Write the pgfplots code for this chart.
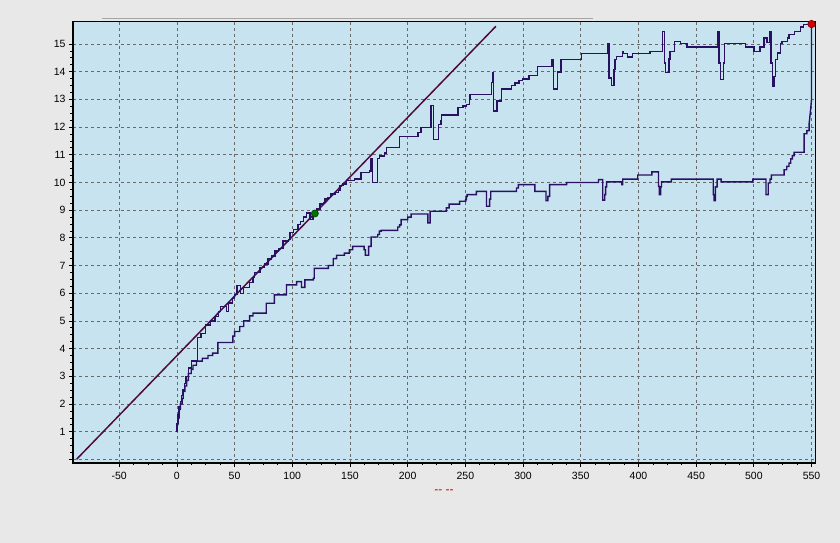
\documentclass[border=0pt]{standalone}
\usepackage{pgfplots}
\pgfplotsset{compat=1.18}
\usepackage{fontspec}
\setmainfont{Liberation Sans}
\definecolor{outerbg}{RGB}{232,232,232}
\definecolor{plotbg}{RGB}{199,227,240}
\definecolor{stepc}{RGB}{42,16,98}
\definecolor{diagc}{RGB}{78,10,62}
\definecolor{gridc}{RGB}{105,105,105}
\begin{document}
\begin{tikzpicture}[x=1pt,y=1pt]
\fill[outerbg] (0,0) rectangle (840,543);
\draw[black!35, line width=1pt] (102,524.5) -- (593,524.5);
\begin{axis}[
  at={(73pt,80pt)}, anchor=south west,
  scale only axis, width=742pt, height=442pt,
  xmin=-90, xmax=553, ymin=-0.13, ymax=15.83,
  axis background/.style={fill=plotbg},
  xtick={-50,0,...,550},
  ytick={0,...,15},
  yticklabels={,1,2,3,4,5,6,7,8,9,10,11,12,13,14,15},
  minor x tick num=3, minor y tick num=3,
  tick align=outside, xtick pos=bottom, ytick pos=left,
  major tick length=4pt, minor tick length=2.5pt,
  tick style={black, line width=0.7pt},
  grid=major, major grid style={gridc, dash pattern=on 3pt off 3pt, line width=0.7pt},
  axis line style={black, line width=0.9pt},
  ticklabel style={font=\fontsize{10.5}{12}\selectfont},
  xticklabel style={yshift=-1.5pt},
  /pgf/number format/assume math mode=true,
  clip=false,
]
% diagonal
\addplot[diagc, line width=1.5pt] coordinates {(-87,0) (276.5,15.64)};
% upper step curve
\addplot[stepc, line width=1.4pt] coordinates {
(0,1.0)(0,1.3)(1,1.3)(1,1.6)(2,1.6)(2,1.9)(3,1.9)(3,2.1)(4,2.1)(4,2.3)(5,2.3)(5,2.5)(6.5,2.5)(6.5,2.75)(8,2.75)(8,3.0)(10,3.0)(10,3.3)(12.5,3.3)(12.5,3.55)(18,3.55)(18,4.4)(21,4.4)(21,4.55)(25,4.55)(25,4.85)(29,4.85)(29,5.0)(33,5.0)(33,5.15)(36,5.15)(36,5.34)(38,5.34)(38,5.52)(43,5.52)(43,5.34)(45,5.34)(45,5.65)(48,5.65)(48,5.8)(50,5.8)(50,5.95)(52,5.95)(52,6.27)(55,6.27)(55,6.0)(58,6.0)(58,6.2)(63,6.2)(63,6.39)(66,6.39)(66,6.57)(67.5,6.57)(67.5,6.75)(72,6.75)(72,6.93)(76,6.93)(76,7.05)(79,7.05)(79,7.23)(82,7.23)(82,7.35)(85,7.35)(85,7.53)(88,7.53)(88,7.61)(92,7.61)(92,7.89)(96.5,7.89)(96.5,7.95)(98,7.95)(98,8.19)(101,8.19)(101,8.31)(105,8.31)(105,8.49)(107,8.49)(107,8.6)(110,8.6)(110,8.75)(112.5,8.75)(112.5,8.89)(115.5,8.89)(115.5,8.67)(118,8.67)(118,8.85)(121,8.85)(121,9.04)(124,9.04)(124,9.22)(127,9.22)(127,9.28)(128.5,9.28)(128.5,9.4)(131,9.4)(131,9.46)(133,9.46)(133,9.58)(137,9.58)(137,9.64)(140,9.64)(140,9.7)(141.5,9.7)(141.5,9.88)(144,9.88)(144,9.94)(147,9.94)(147,10.06)(153.8,10.06)(153.8,10.13)(159.6,10.13)(159.6,10.35)(166.8,10.35)(166.8,10.41)(168.3,10.41)(168.3,10.87)(169.7,10.87)(169.7,10.0)(174.1,10.0)(174.1,10.87)(175.5,10.87)(175.5,10.95)(180,10.95)(180,11.06)(181.8,11.06)(181.8,11.27)(193,11.27)(193,11.65)(209,11.65)(209,11.8)(211.7,11.8)(211.7,11.98)(220.4,11.98)(220.4,12.78)(222.5,12.78)(222.5,11.55)(226.5,11.55)(226.5,12.1)(229,12.1)(229,12.22)(229.5,12.22)(229.5,12.44)(243.8,12.44)(243.8,12.7)(248,12.7)(248,12.76)(251,12.76)(251,12.82)(253.8,12.82)(253.8,13.0)(254,13.0)(254,13.18)(272.6,13.18)(272.6,13.6)(273.5,13.6)(273.5,13.97)(274.5,13.97)(274.5,12.58)(277.5,12.58)(277.5,12.94)(281.5,12.94)(281.5,13.38)(290,13.38)(290,13.5)(293,13.5)(293,13.59)(296.5,13.59)(296.5,13.68)(299.4,13.68)(299.4,13.74)(305,13.74)(305,13.86)(312.4,13.86)(312.4,14.19)(325,14.19)(325,14.42)(326.3,14.42)(326.3,13.37)(330,13.37)(330,13.99)(333,13.99)(333,14.43)(350.5,14.43)(350.5,14.65)(373,14.65)(373,15.01)(374.5,15.01)(374.5,13.77)(376.5,13.77)(376.5,13.49)(378.8,13.49)(378.8,14.07)(379.6,14.07)(379.6,14.43)(381,14.43)(381,14.55)(386,14.55)(386,14.73)(387,14.73)(387,14.65)(390.5,14.65)(390.5,14.53)(395,14.53)(395,14.65)(410,14.65)(410,14.73)(421,14.73)(421,15.46)(422.5,15.46)(422.5,14.31)(423.5,14.31)(423.5,13.97)(426.5,13.97)(426.5,14.46)(427.5,14.46)(427.5,14.73)(431,14.73)(431,15.09)(436.5,15.09)(436.5,15.01)(442,15.01)(442,14.89)(468.5,14.89)(468.5,15.46)(469.8,15.46)(469.8,14.31)(471,14.31)(471,13.71)(473.5,13.71)(473.5,14.31)(474.5,14.31)(474.5,15.01)(493,15.01)(493,14.89)(500,14.89)(500,14.73)(505.5,14.73)(505.5,14.89)(508.8,14.89)(508.8,15.22)(511.5,15.22)(511.5,15.06)(514,15.06)(514,15.46)(515,15.46)(515,14.31)(516,14.31)(516,13.47)(517.5,13.47)(517.5,13.83)(519,13.83)(519,14.43)(520.5,14.43)(520.5,14.67)(523,14.67)(523,15.01)(524.5,15.01)(524.5,15.09)(529,15.09)(529,15.22)(530.5,15.22)(530.5,15.34)(535,15.34)(535,15.46)(540.5,15.46)(540.5,15.61)(543,15.61)(543,15.70)(550,15.70)
};
% lower step curve
\addplot[stepc, line width=1.4pt] coordinates {
(0,1.0)(0,1.25)(1,1.25)(1,1.5)(2,1.5)(2,1.8)(3,1.8)(3,2.0)(4.5,2.0)(4.5,2.2)(5.5,2.2)(5.5,2.45)(7,2.45)(7,2.65)(8.5,2.65)(8.5,2.85)(10,2.85)(10,3.1)(12.5,3.1)(12.5,3.25)(14,3.25)(14,3.4)(17,3.4)(17,3.55)(22,3.55)(22,3.65)(27,3.65)(27,3.75)(31,3.75)(31,3.84)(35.5,3.84)(35.5,4.22)(48.5,4.22)(48.5,4.45)(50,4.45)(50,4.62)(54.5,4.62)(54.5,4.8)(58,4.8)(58,5.0)(63,5.0)(63,5.18)(66,5.18)(66,5.28)(77.5,5.28)(77.5,5.64)(84.5,5.64)(84.5,5.94)(95,5.94)(95,6.3)(103.8,6.3)(103.8,6.42)(108,6.42)(108,6.21)(111,6.21)(111,6.48)(118.3,6.48)(118.3,6.54)(119.1,6.54)(119.1,6.9)(131.3,6.9)(131.3,7.0)(135.5,7.0)(135.5,7.25)(138.4,7.25)(138.4,7.37)(145.1,7.37)(145.1,7.45)(149.4,7.45)(149.4,7.57)(152.3,7.57)(152.3,7.69)(162.3,7.69)(162.3,7.57)(163.3,7.57)(163.3,7.37)(166.2,7.37)(166.2,7.69)(168.3,7.69)(168.3,8.03)(174.1,8.03)(174.1,8.12)(175.5,8.12)(175.5,8.24)(177,8.24)(177,8.27)(191.4,8.27)(191.4,8.39)(193,8.39)(193,8.47)(194.3,8.47)(194.3,8.66)(200.1,8.66)(200.1,8.75)(203,8.75)(203,8.86)(217.5,8.86)(217.5,8.54)(219.5,8.54)(219.5,8.96)(233.5,8.96)(233.5,9.08)(236,9.08)(236,9.22)(245,9.22)(245,9.32)(250.3,9.32)(250.3,9.38)(250.9,9.38)(250.9,9.5)(251.5,9.5)(251.5,9.56)(259.6,9.56)(259.6,9.68)(268.3,9.68)(268.3,9.14)(271,9.14)(271,9.4)(272,9.4)(272,9.68)(294.3,9.68)(294.3,9.8)(296,9.8)(296,9.92)(310.3,9.92)(310.3,9.68)(319.9,9.68)(319.9,9.34)(321.5,9.34)(321.5,9.5)(323,9.5)(323,9.92)(337.8,9.92)(337.8,10.0)(365.4,10.0)(365.4,10.1)(369.1,10.1)(369.1,9.36)(370.8,9.36)(370.8,9.56)(371.5,9.56)(371.5,9.84)(372.4,9.84)(372.4,10.02)(385.5,10.02)(385.5,9.92)(386.4,9.92)(386.4,10.12)(399.4,10.12)(399.4,10.27)(411.6,10.27)(411.6,10.38)(417.4,10.38)(417.4,9.86)(418,9.86)(418,9.56)(419.2,9.56)(419.2,9.84)(420,9.84)(420,10.02)(428.5,10.02)(428.5,10.12)(464.8,10.12)(464.8,9.56)(465.6,9.56)(465.6,9.34)(466.7,9.34)(466.7,9.84)(468.2,9.84)(468.2,10.12)(471.7,10.12)(471.7,10.02)(499.2,10.02)(499.2,10.12)(510.5,10.12)(510.5,9.56)(512.5,9.56)(512.5,9.98)(514,9.98)(514,10.12)(515.2,10.12)(515.2,10.27)(526.2,10.27)(526.2,10.46)(528.5,10.46)(528.5,10.58)(530.5,10.58)(530.5,10.7)(532,10.7)(532,10.85)(533.4,10.85)(533.4,10.97)(534.9,10.97)(534.9,11.09)(543.6,11.09)(543.6,11.76)(545.9,11.76)(545.9,11.87)(547.9,11.87)(547.9,12.12)(549.2,12.63)(550,13.0)(550,15.70)
};
% markers
\addplot[only marks, mark=*, mark size=3.5pt, mark options={fill=green!45!black, draw=black!70!green, line width=0.8pt}] coordinates {(119.6,8.88)};
\addplot[only marks, mark=*, mark size=3.7pt, mark options={fill=red!85!black, draw=red!50!black, line width=0.7pt}] coordinates {(550,15.72)};
% thick left and bottom axis lines
\draw[black, line width=2.2pt] (rel axis cs:0,1) -- (rel axis cs:0,0) -- (rel axis cs:1,0);
\node[text=red!75!black, font=\fontsize{12}{12}\selectfont] at (rel axis cs:0.5,0) [yshift=-29pt] {-{}- -{}-};
\end{axis}
\end{tikzpicture}
\end{document}
